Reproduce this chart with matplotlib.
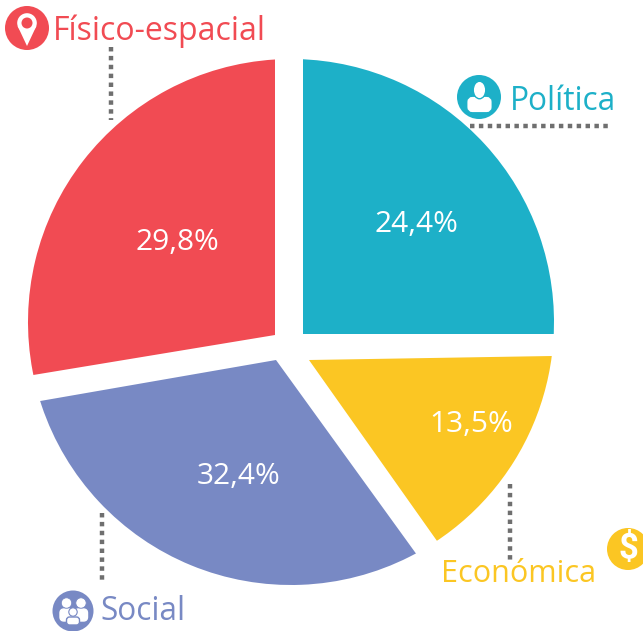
import matplotlib
matplotlib.use("Agg")
import matplotlib.pyplot as plt
from matplotlib.patches import Circle, Ellipse, Polygon, FancyBboxPatch

# shares, the printed labels differ a little
categories = ["Política", "Económica", "Social", "Físico-espacial"]
shares = [26.4, 15.0, 29.6, 29.0]
pct_labels = ["24,4%", "13,5%", "32,4%", "29,8%"]
colors = ["#1DB0C8", "#FBC623", "#7889C4", "#F14B53"]

W, H = 643, 631
CX, CY, R = 291, 322, 263
FONT = "Open Sans"
GRAY = "#6F6F6F"

pct_pos = [(416, 225), (471, 424), (239, 477), (177, 242)]
name_pos = [(510, 110), (441, 582), (100, 620), (53, 40)]
name_size = [22.8, 22, 22.8, 23]
leaders = [((470, 126), (608, 126)), ((510, 484), (510, 560)),
           ((102, 513), (102, 582)), ((111, 47), (111, 120))]
# each slice is cut to its own area, the white gaps are what is left over
areas = [
    [(303, 334), (303, 0), (643, 0), (643, 334)],
    [(309, 360), (643, 354.5), (643, 631), (500, 630)],
    [(276, 360), (472, 631), (0, 631), (0, 408)],
    [(275, 335), (0, 380.5), (0, 0), (275, 0)],
]

fig = plt.figure(figsize=(W / 100, H / 100), dpi=100)

ax = fig.add_axes([0, 0, 1, 1])
wedges = ax.pie(shares, colors=colors, startangle=90, counterclock=False,
                center=(CX, H - CY), radius=R, frame=True)[0]
ax.set_xlim(0, W)
ax.set_ylim(0, H)
ax.set_aspect("auto")
ax.axis("off")

# overlay in picture pixels, y going down
top = fig.add_axes([0, 0, 1, 1])
top.set_xlim(0, W)
top.set_ylim(H, 0)
top.axis("off")
top.patch.set_alpha(0)

for w, area in zip(wedges, areas):
    w.set_theta1(w.theta1 - 45)
    w.set_theta2(w.theta2 + 45)
    # pie turns clipping off on its wedges
    w.set_clip_on(True)
    w.set_clip_path(Polygon(area, closed=True, transform=top.transData))

for (a, b) in leaders:
    top.plot([a[0], b[0]], [a[1], b[1]], color=GRAY, lw=3.2,
             linestyle=(0, (1, 1.0)), dash_capstyle="butt")

for lab, (x, y) in zip(pct_labels, pct_pos):
    top.text(x, y, lab, color="white", fontsize=21.5, family=FONT,
             ha="center", va="center")

for name, (x, y), c, s in zip(categories, name_pos, colors, name_size):
    top.text(x, y, name, color=c, fontsize=s, family=FONT,
             ha="left", va="baseline")

# pin icon
top.add_patch(Circle((27, 28), 22, fc=colors[3], ec="none"))
top.add_patch(Polygon([(17.6, 26), (36.4, 26), (27, 46)], fc="white", ec="none"))
top.add_patch(Circle((27, 23), 9.8, fc="white", ec="none"))
top.add_patch(Circle((27, 23), 5.5, fc=colors[3], ec="none"))

# person icon
top.add_patch(Circle((479, 97), 22, fc=colors[0], ec="none"))
top.add_patch(FancyBboxPatch((469.5, 99), 20, 11, boxstyle="round,pad=0,rounding_size=3",
                             fc="white", ec="white", lw=3))
top.add_patch(Ellipse((479.5, 90), 12.5, 17.5, fc="white", ec=colors[0], lw=1))

# dollar icon
top.add_patch(Circle((628, 549), 21, fc=colors[1], ec="none"))
top.text(628, 549, "$", color="white", fontsize=25, family="Roboto",
         fontweight="bold", ha="center", va="center")

# group icon
top.add_patch(Circle((73, 611), 20.5, fc=colors[2], ec="none"))
for hx in (66.5, 81):
    top.add_patch(FancyBboxPatch((hx - 6.5, 609), 13, 12, boxstyle="round,pad=0,rounding_size=4",
                                 fc="white", ec="white", lw=1))
    top.add_patch(Circle((hx, 603), 5.2, fc="white", ec=colors[2], lw=0.6))
top.add_patch(FancyBboxPatch((66.5, 617), 13, 8, boxstyle="round,pad=0,rounding_size=3",
                             fc="white", ec=colors[2], lw=1))
top.add_patch(Circle((73, 612), 4.2, fc="white", ec=colors[2], lw=0.8))

fig.savefig("out.png", dpi=100)
